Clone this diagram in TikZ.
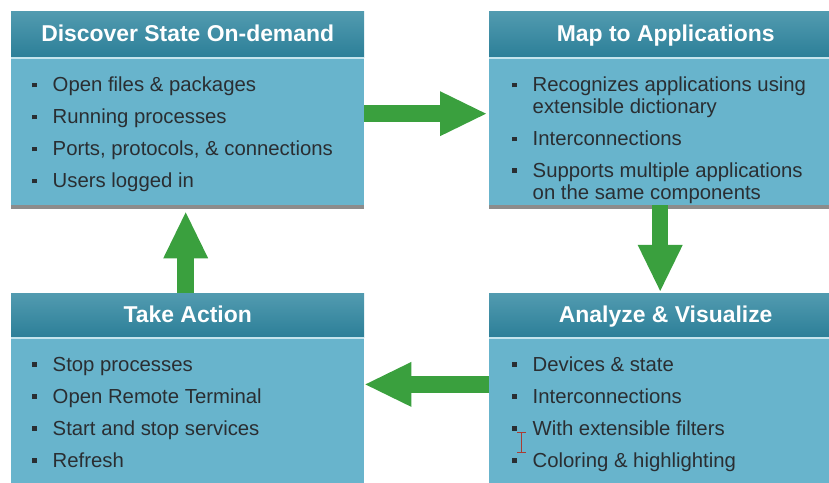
\documentclass[tikz,border=0pt]{standalone}
\usepackage{fontspec}
\setmainfont{Liberation Sans}
\usetikzlibrary{arrows.meta,shadows}
\definecolor{headTop}{RGB}{82,155,176}
\definecolor{headBottom}{RGB}{44,127,152}
\definecolor{bodyBlue}{RGB}{104,180,204}
\definecolor{sepBlue}{RGB}{196,228,237}
\definecolor{itemGray}{RGB}{42,46,50}
\definecolor{arrowGreen}{RGB}{58,160,62}
\definecolor{cursorRed}{RGB}{170,60,50}
\tikzstyle{headBox}=[shape = rectangle, anchor = north west, inner sep = 0pt, minimum width = 353bp, minimum height = 46bp, top color = headTop, bottom color = headBottom, text = white, font = \fontsize{23pt}{27pt}\selectfont\bfseries, text height = 16bp, text depth = 2bp]
\tikzstyle{bodyBox}=[shape = rectangle, anchor = north west, inner sep = 0pt, minimum width = 353bp, fill = bodyBlue]
\tikzstyle{itemText}=[anchor = base west, inner sep = 0pt, text = itemGray, font = \fontsize{20.4pt}{24pt}\selectfont]
\tikzstyle{sepLine}=[draw = sepBlue, line width = 2bp]
\tikzstyle{bigArrow}=[draw = arrowGreen, line width = 16.5bp, -{Triangle[length = 46bp, width = 45bp, line width = 0pt]}]
\newcommand{\bul}{\llap{\rule[4.5bp]{4.6bp}{4.6bp}\hspace{16bp}}}

\begin{document}
\begin{tikzpicture}[x = 1bp, y = -1bp]
\tikzstyle{topShadow}=[drop shadow = {shadow xshift = 0bp, shadow yshift = -3.5bp, fill = black, opacity = 0.45}]
\clip (0,0) rectangle (829,483);
\node[bodyBox, topShadow, minimum height = 146bp] (discoverBody) at (11,59) {};
\node[bodyBox, topShadow, minimum height = 146bp] (mapBody) at (489,59) {};
\node[bodyBox, minimum height = 150bp] (takeBody) at (11,339) {};
\node[bodyBox, minimum height = 150bp] (analyzeBody) at (489,339) {};
\node[headBox] (discoverHead) at (11,11) {Discover State On-demand};
\node[headBox] (mapHead) at (489,11) {Map to Applications};
\node[headBox, minimum height = 44bp] (takeHead) at (11,293) {Take Action};
\node[headBox, minimum height = 44bp] (analyzeHead) at (489,293) {Analyze \& Visualize};
\draw[sepLine] ([yshift = -1bp]discoverHead.south west) -- ([yshift = -1bp]discoverHead.south east);
\draw[sepLine] ([yshift = -1bp]mapHead.south west) -- ([yshift = -1bp]mapHead.south east);
\draw[sepLine] ([yshift = -1bp]takeHead.south west) -- ([yshift = -1bp]takeHead.south east);
\draw[sepLine] ([yshift = -1bp]analyzeHead.south west) -- ([yshift = -1bp]analyzeHead.south east);
\node[itemText] (d1) at (52.5,92) {\bul Open files \& packages};
\node[itemText] (d2) at (52.5,124) {\bul Running processes};
\node[itemText] (d3) at (52.5,156) {\bul Ports, protocols, \& connections};
\node[itemText] (d4) at (52.5,188) {\bul Users logged in};
\node[itemText] (m1) at (532.5,92) {\bul Recognizes applications using};
\node[itemText] (m1b) at (532.5,114) {extensible dictionary};
\node[itemText] (m2) at (532.5,146) {\bul Interconnections};
\node[itemText] (m3) at (532.5,177.5) {\bul Supports multiple applications};
\node[itemText] (m3b) at (532.5,199.5) {on the same components};
\node[itemText] (t1) at (52.5,371) {\bul Stop processes};
\node[itemText] (t2) at (52.5,403) {\bul Open Remote Terminal};
\node[itemText] (t3) at (52.5,435) {\bul Start and stop services};
\node[itemText] (t4) at (52.5,467.5) {\bul Refresh};
\node[itemText] (a1) at (532.5,371) {\bul Devices \& state};
\node[itemText] (a2) at (532.5,403) {\bul Interconnections};
\node[itemText] (a3) at (532.5,435) {\bul With extensible filters};
\node[itemText] (a4) at (532.5,467.5) {\bul Coloring \& highlighting};
\draw[bigArrow] ([yshift = 18.5bp]discoverBody.east) -- ([xshift = -3bp, yshift = 18.5bp]mapBody.west);
\draw[bigArrow] ([xshift = -5.5bp]mapBody.south) -- ([xshift = -5.5bp, yshift = 2bp]analyzeHead.north);
\draw[bigArrow] ([yshift = -47bp]analyzeHead.south west) -- ([xshift = 1bp, yshift = -47bp]takeHead.south east);
\draw[bigArrow] ([xshift = -2bp]takeHead.north) -- ([xshift = -2bp, yshift = -7bp]discoverBody.south);
\draw[cursorRed, line width = 0.8bp] (517,432) -- (526,432) (521.5,432) -- (521.5,452) (517,452) -- (526,452);
\end{tikzpicture}
\end{document}
